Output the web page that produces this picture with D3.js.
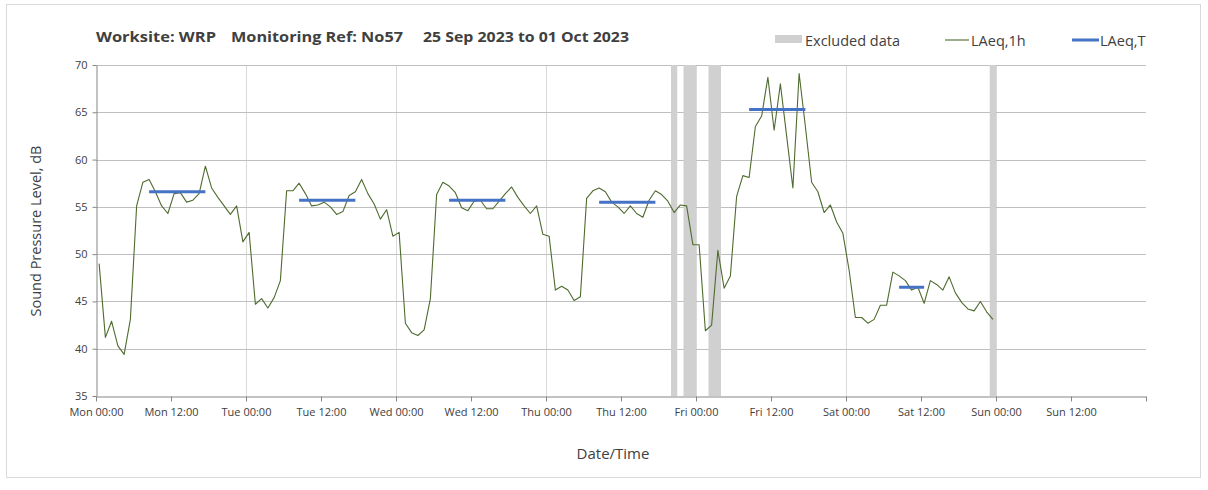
<!DOCTYPE html>
<html>
<head>
<meta charset="utf-8">
<script src="https://cdn.jsdelivr.net/npm/d3@7"></script>
<style>
  html, body { margin: 0; padding: 0; background: #ffffff; }
  svg { display: block; }
  text { font-family: "Open Sans", "DejaVu Sans", sans-serif; fill: #404040; }
</style>
</head>
<body>
<svg id="chart" width="1208" height="490"></svg>
<script>
// Hourly LAeq,1h readings (dB), one per hour from Mon 25 Sep 2023 00:00
const laeq1h = [
  49.0, 41.2, 42.9, 40.3, 39.4, 43.1, 55.1, 57.6, 57.9, 56.6, 55.1, 54.3,
  56.4, 56.5, 55.5, 55.7, 56.4, 59.3, 57.0, 56.0, 55.1, 54.2, 55.1, 51.3,
  52.3, 44.7, 45.3, 44.3, 45.4, 47.2, 56.7, 56.7, 57.5, 56.4, 55.1, 55.2,
  55.5, 55.0, 54.2, 54.5, 56.2, 56.6, 57.9, 56.4, 55.3, 53.7, 54.7, 51.9,
  52.3, 42.7, 41.7, 41.4, 42.0, 45.3, 56.3, 57.6, 57.2, 56.5, 54.9, 54.6,
  55.6, 55.7, 54.8, 54.8, 55.6, 56.4, 57.1, 56.0, 55.1, 54.3, 55.1, 52.1,
  51.9, 46.2, 46.6, 46.2, 45.1, 45.5, 55.9, 56.7, 57.0, 56.6, 55.5, 55.0,
  54.3, 55.1, 54.3, 53.9, 55.7, 56.7, 56.3, 55.6, 54.4, 55.2, 55.1, 51.0,
  51.0, 41.9, 42.5, 50.4, 46.4, 47.7, 56.1, 58.3, 58.1, 63.5, 64.6, 68.7,
  63.1, 68.0, 62.5, 57.0, 69.1, 63.5, 57.6, 56.6, 54.4, 55.2, 53.4, 52.2,
  48.3, 43.3, 43.3, 42.7, 43.1, 44.6, 44.6, 48.1, 47.7, 47.2, 46.2, 46.5,
  44.8, 47.2, 46.8, 46.2, 47.6, 45.9, 44.9, 44.2, 44.0, 45.0, 43.9, 43.1
];

// Daytime LAeq,T periods (first to last hourly reading) and levels (dB)
const periodStarts = ["2023-09-25T08:30", "2023-09-26T08:30", "2023-09-27T08:30", "2023-09-28T08:30", "2023-09-29T08:30", "2023-09-30T08:30"];
const periodEnds   = ["2023-09-25T17:30", "2023-09-26T17:30", "2023-09-27T17:30", "2023-09-28T17:30", "2023-09-29T17:30", "2023-09-30T12:30"];
const laeqT        = [56.6, 55.7, 55.7, 55.5, 65.3, 46.5];

// Excluded data intervals
const excludedStarts = ["2023-09-28T20:00", "2023-09-28T22:00", "2023-09-29T02:00", "2023-09-30T23:00"];
const excludedEnds   = ["2023-09-28T21:00", "2023-09-29T00:00", "2023-09-29T04:00", "2023-10-01T00:00"];

// Axis settings
const yTicks = [35, 40, 45, 50, 55, 60, 65, 70];
const firstReading = "2023-09-25T00:30";
const axisStart = "2023-09-25T00:00";
const axisEnd = "2023-10-02T00:00";

const titleParts = ["Worksite: WRP", "Monitoring Ref: No57", "25 Sep 2023 to 01 Oct 2023"];
const legendLabels = ["Excluded data", "LAeq,1h", "LAeq,T"];

const parse = d3.timeParse("%Y-%m-%dT%H:%M");
const t0 = parse(firstReading);
const series = laeq1h.map((v, i) => ({ t: d3.timeHour.offset(t0, i), v }));
const periods = laeqT.map((v, i) => ({ s: parse(periodStarts[i]), e: parse(periodEnds[i]), v }));
const excluded = excludedStarts.map((s, i) => ({ s: parse(s), e: parse(excludedEnds[i]) }));

const svg = d3.select("#chart");
const W = 1208, H = 490;
const plot = { left: 96, right: 1146, top: 65, bottom: 396 };

// Outer frame
svg.append("rect")
  .attr("x", 6.5).attr("y", 4.5).attr("width", 1194).attr("height", 473)
  .attr("fill", "#ffffff").attr("stroke", "#d9d9d9").attr("stroke-width", 1);

const x = d3.scaleTime()
  .domain([parse(axisStart), parse(axisEnd)])
  .range([plot.left, plot.right]);
const y = d3.scaleLinear()
  .domain([35, 70])
  .range([plot.bottom, plot.top]);

// Vertical day gridlines
const dayTicks = d3.timeDay.range(d3.timeDay.offset(parse(axisStart), 1), parse(axisEnd));
svg.append("g").selectAll("line").data(dayTicks).join("line")
  .attr("x1", d => Math.round(x(d)) + 0.5).attr("x2", d => Math.round(x(d)) + 0.5)
  .attr("y1", plot.top).attr("y2", plot.bottom)
  .attr("stroke", "#d9d9d9").attr("stroke-width", 1);

// Horizontal gridlines
svg.append("g").selectAll("line").data(yTicks.filter(d => d > 35)).join("line")
  .attr("x1", plot.left).attr("x2", plot.right)
  .attr("y1", d => Math.round(y(d)) + 0.5).attr("y2", d => Math.round(y(d)) + 0.5)
  .attr("stroke", "#bfbfbf").attr("stroke-width", 1);

// Excluded data bands
svg.append("g").selectAll("rect").data(excluded).join("rect")
  .attr("x", d => x(d.s)).attr("width", d => x(d.e) - x(d.s))
  .attr("y", plot.top).attr("height", plot.bottom - plot.top)
  .attr("fill", "#d0d0d0");

// LAeq,1h line
svg.append("path")
  .datum(series)
  .attr("fill", "none")
  .attr("stroke", "#4f6b2e")
  .attr("stroke-width", 1.1)
  .attr("stroke-linejoin", "round")
  .attr("d", d3.line().x(d => x(d.t)).y(d => y(d.v)));

// LAeq,T lines
svg.append("g").selectAll("line").data(periods).join("line")
  .attr("x1", d => x(d.s)).attr("x2", d => x(d.e))
  .attr("y1", d => y(d.v)).attr("y2", d => y(d.v))
  .attr("stroke", "#4472c4").attr("stroke-width", 3);

// Axes
const fmt = d3.timeFormat("%a %H:%M");
const halfDays = d3.timeHour.every(12).range(parse(axisStart), d3.timeHour.offset(parse(axisEnd), 1));
const xAxis = d3.axisBottom(x)
  .tickValues(halfDays)
  .tickSize(5)
  .tickSizeOuter(0)
  .tickFormat(d => +d === +parse(axisEnd) ? "" : fmt(d));
const gx = svg.append("g").attr("transform", `translate(0,${plot.bottom + 0.5})`).call(xAxis);
gx.select(".domain").attr("stroke", "#868686");
gx.selectAll(".tick line").attr("stroke", "#868686");
gx.selectAll(".tick text").attr("font-size", 11).attr("dy", "1.05em").attr("fill", "#404040")
  .style("font-family", "'Open Sans', sans-serif");

const yAxis = d3.axisLeft(y).tickValues(yTicks).tickSize(4).tickSizeOuter(0).tickFormat(d3.format("d"));
const gy = svg.append("g").attr("transform", `translate(${plot.left + 0.5},0)`).call(yAxis);
gy.select(".domain").attr("stroke", "#868686");
gy.selectAll(".tick line").attr("stroke", "#868686");
gy.selectAll(".tick text").attr("font-size", 11).attr("x", -9).attr("fill", "#404040")
  .style("font-family", "'Open Sans', sans-serif");

// Axis titles
svg.append("text")
  .attr("x", 613).attr("y", 459)
  .attr("text-anchor", "middle")
  .attr("font-size", 15)
  .text("Date/Time");
svg.append("text")
  .attr("transform", "translate(41,231) rotate(-90)")
  .attr("text-anchor", "middle")
  .attr("font-size", 14.5)
  .text("Sound Pressure Level, dB");

// Title
const titleX = [96, 231, 423];
const titleW = [120, 172, 206];
svg.append("g").selectAll("text").data(titleParts).join("text")
  .attr("x", (d, i) => titleX[i]).attr("y", 42)
  .attr("font-size", 14.5).attr("font-weight", "bold")
  .attr("fill", "#000000")
  .attr("textLength", (d, i) => titleW[i])
  .attr("lengthAdjust", "spacingAndGlyphs")
  .text(d => d);

// Legend
const lg = svg.append("g").attr("font-size", 14.5);
lg.append("rect").attr("x", 775).attr("y", 35).attr("width", 27).attr("height", 8).attr("fill", "#d0d0d0");
lg.append("text").attr("x", 805).attr("y", 45.5).text(legendLabels[0]);
lg.append("line").attr("x1", 945).attr("x2", 969).attr("y1", 40).attr("y2", 40)
  .attr("stroke", "#4f6b2e").attr("stroke-width", 1.1);
lg.append("text").attr("x", 971).attr("y", 45.5).text(legendLabels[1]);
lg.append("line").attr("x1", 1072).attr("x2", 1099).attr("y1", 40).attr("y2", 40)
  .attr("stroke", "#4472c4").attr("stroke-width", 3);
lg.append("text").attr("x", 1100).attr("y", 45.5).text(legendLabels[2]);
</script>
</body>
</html>
